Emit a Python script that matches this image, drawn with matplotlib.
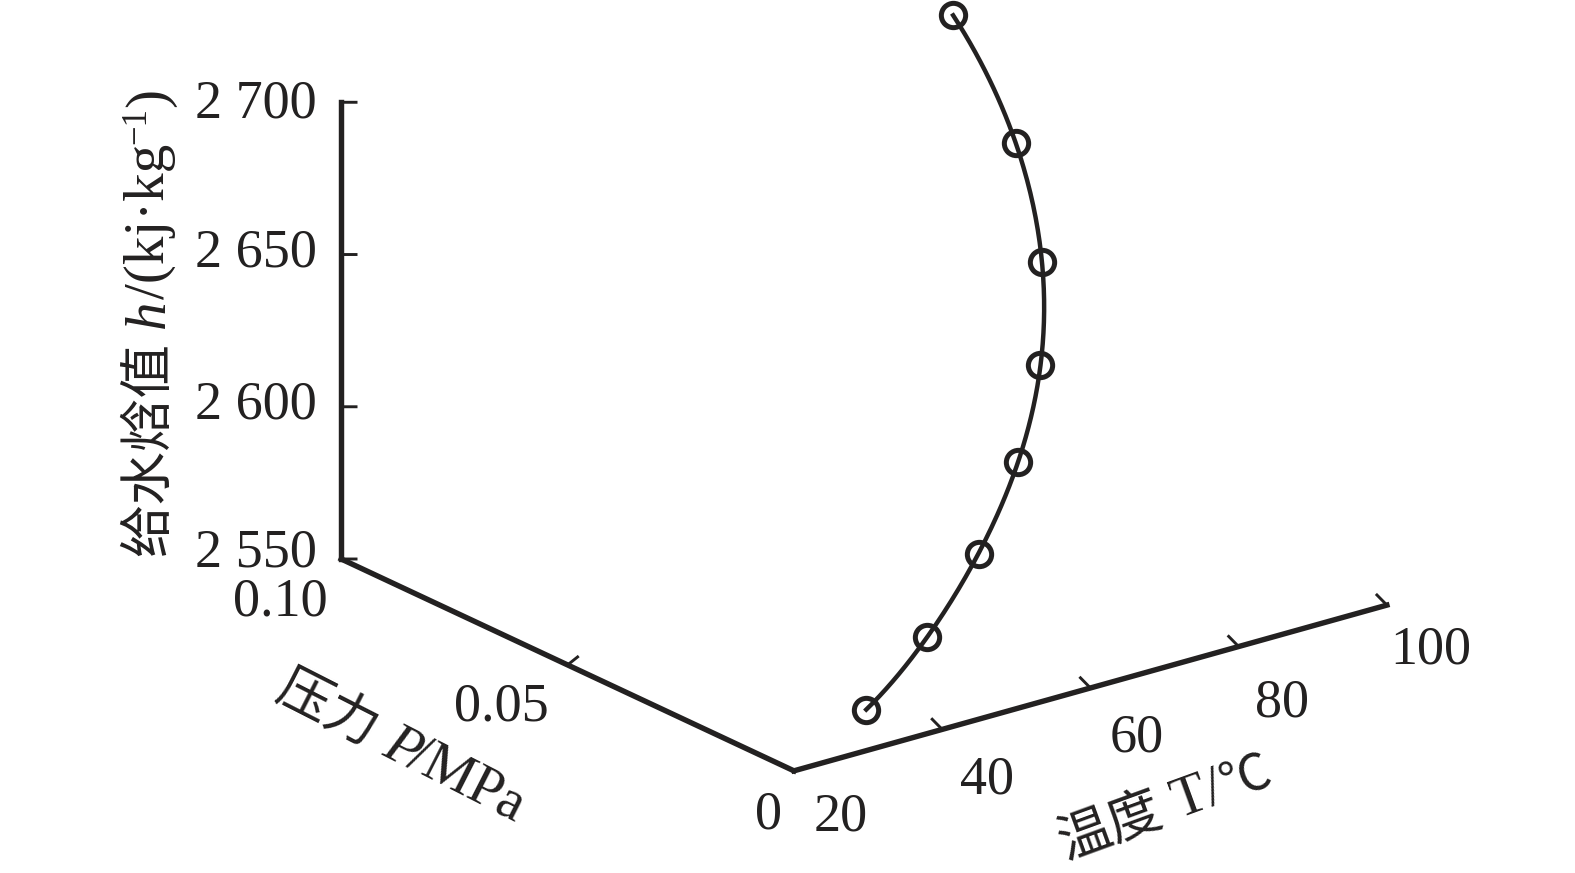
import numpy as np
import matplotlib
matplotlib.use("Agg")
import matplotlib.pyplot as plt
from mpl_toolkits.mplot3d import proj3d

# values
temp = [30, 40, 50, 60, 70, 80, 90, 100]
pres = [0.0004, 0.0034, 0.0083, 0.0160, 0.0275, 0.0434, 0.0656, 0.0958]
enth = [2563, 2578, 2595, 2613, 2630, 2646, 2663, 2677]

temp_ticks = [40, 60, 80, 100]
pres_ticks = [0.05]
enth_ticks = [2550, 2600, 2650, 2700]

W, H = 1575, 873
S = 1.005  # picture coordinates were read slightly small
INK = "#232121"
SERIF = "Liberation Serif"
CJK = "Noto Sans CJK SC"

fig = plt.figure(figsize=(W / 100, H / 100), dpi=100, facecolor="white")
side = 1000
ax = fig.add_axes([0, 0, side / W, side / H], projection="3d", proj_type="ortho",
                  computed_zorder=False)
ax.set_axis_off()
ax.view_init(elev=21.2, azim=-127.7)
ax.set_xlim(20, 100, view_margin=0)
ax.set_ylim(0, 0.10, view_margin=0)
ax.set_zlim(2550, 2700, view_margin=0)
aspect = (745, 736, 487)
ax.set_box_aspect(aspect)


def to_px(t, p, h):
    x, y, _ = proj3d.proj_transform(t, p, h, ax.get_proj())
    px, py = ax.transData.transform((x, y))
    return px, H - py


# scale and shift the box so the corner sits where it does in the picture
fig.canvas.draw()
a, b = np.array(to_px(20, 0, 2550)), np.array(to_px(100, 0, 2550))
ax.set_box_aspect(aspect, zoom=612.6 * S / np.hypot(*(b - a)))
fig.canvas.draw()
a = np.array(to_px(20, 0, 2550))
ax.set_position([(790 * S - a[0]) / W, (a[1] - 767 * S) / H, side / W, side / H])
fig.canvas.draw()

# axis lines
axis_kw = dict(color=INK, lw=3.9, clip_on=False, solid_capstyle="projecting")
ax.plot([20, 100], [0, 0], [2550, 2550], **axis_kw)
ax.plot([20, 20], [0, 0.10], [2550, 2550], **axis_kw)
ax.plot([20, 20], [0.10, 0.10], [2550, 2700], **axis_kw)

# ticks
tick_kw = dict(color=INK, lw=2.1, clip_on=False)
for t in temp_ticks:
    ax.plot([t, t], [0, 0.0022], [2550, 2551.8], **tick_kw)
for p in pres_ticks:
    ax.plot([20, 21.35], [p, p], [2550, 2551.7], **tick_kw)
for h in enth_ticks:
    ax.plot([20, 22], [0.10, 0.10], [h, h - 1.36], **tick_kw)

# open circles, then the smooth curve through them on top
ax.plot(temp, pres, enth, ls="none", marker="o", ms=17.5, mew=3.6, mfc="none",
        mec=INK, clip_on=False, zorder=3)
tt = np.linspace(temp[0], temp[-1], 200)
pp = np.polyval(np.polyfit(temp, pres, 5), tt)
hh = np.polyval(np.polyfit(temp, enth, 5), tt)
ax.plot(tt, pp, hh, color=INK, lw=3.2, clip_on=False, zorder=4)


def label(x, y, s, **kw):
    kw.setdefault("ha", "center")
    kw.setdefault("va", "center")
    fig.text(x * S / W, 1 - (y * S + 3) / H, s, family=SERIF, fontsize=39, color=INK, **kw)


for y, s in zip([101, 249, 400, 548], ["2 700", "2 650", "2 600", "2 550"]):
    label(315, y, s, ha="right")
for x, y, s in [(279, 596, "0.10"), (499, 701, "0.05"), (765, 808, "0")]:
    label(x, y, s)
for x, y, s in [(837, 810, "20"), (982, 773, "40"), (1131, 732, "60"),
                (1276, 697, "80"), (1424, 644, "100")]:
    label(x, y, s)


def chain(x, y, angle, pieces):
    # lay text pieces one after another along a rotated baseline
    ux, uy = np.cos(np.radians(angle)), np.sin(np.radians(angle))
    r = fig.canvas.get_renderer()
    x, y = x * S, y * S
    for s, fam, style, size, lift in pieces:
        px = x - uy * lift
        py = y - ux * lift
        t = fig.text(px / W, 1 - py / H, s, family=fam, style=style, fontsize=size,
                     color=INK, ha="left", va="baseline", rotation_mode="anchor")
        # advance measured unrotated, a trailing dot stands in for spaces
        t.set_text(s + ".")
        full = t.get_window_extent(r).width
        t.set_text(".")
        dot = t.get_window_extent(r).width
        t.set_text(s)
        t.set_rotation(angle)
        adv = full - dot
        x += ux * adv
        y -= uy * adv


chain(163, 553, 90, [("给水焓值", CJK, "normal", 38.5, 0), (" ", SERIF, "normal", 41, 0),
                     ("h", SERIF, "italic", 41, 0), ("/(kj·kg", SERIF, "normal", 41, 0),
                     ("−1", SERIF, "normal", 25, 19), (")", SERIF, "normal", 41, 0)])
chain(271, 695, -27, [("压力", CJK, "normal", 38.5, 0), (" ", SERIF, "normal", 41, 0),
                      ("P", SERIF, "italic", 41, 0), ("/MPa", SERIF, "normal", 41, 0)])
chain(1060, 855, 20, [("温度", CJK, "normal", 38.5, 0), (" ", SERIF, "normal", 41, 0),
                      ("T/", SERIF, "normal", 41, 0), ("℃", CJK, "normal", 36, 0)])

fig.savefig("out.png", dpi=100)
